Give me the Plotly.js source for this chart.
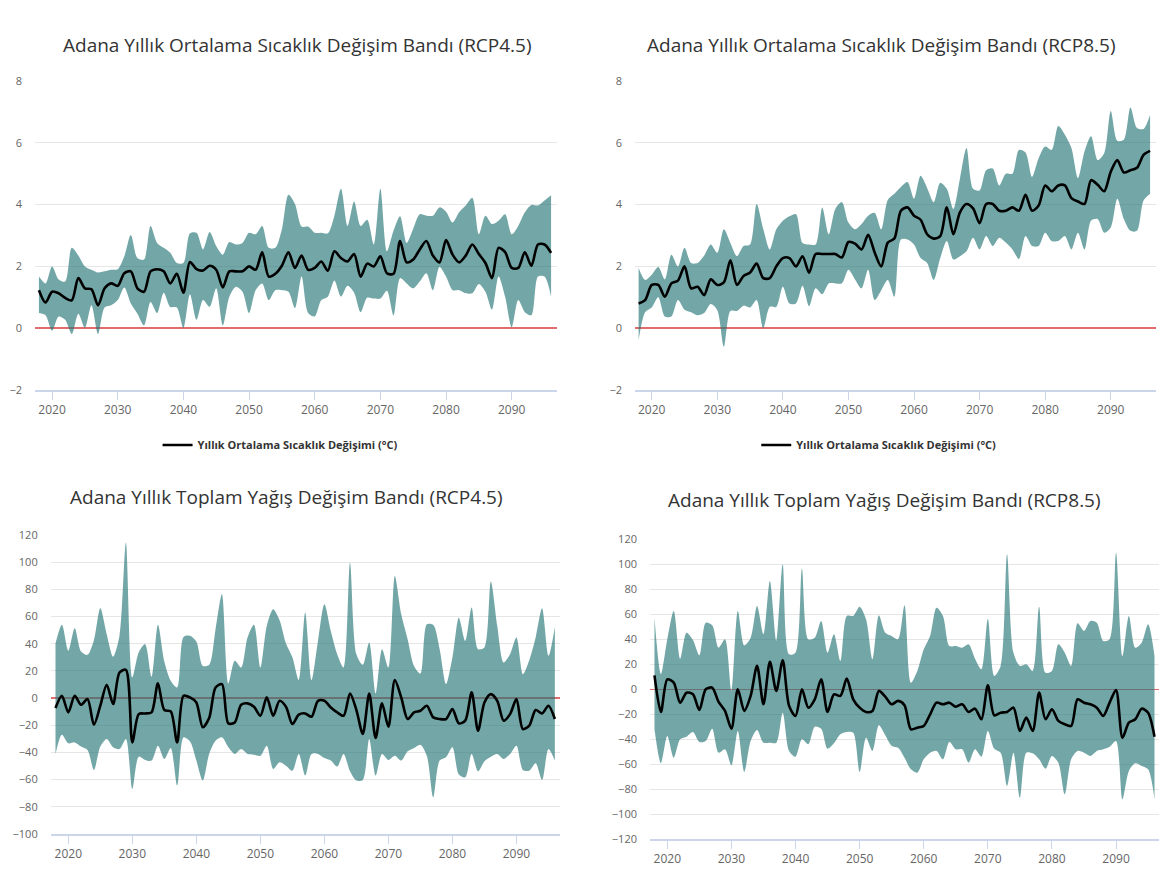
<!DOCTYPE html>
<html>
<head>
<meta charset="utf-8">
<script src="https://cdn.plot.ly/plotly-3.0.1.min.js"></script>
<style>
html,body{margin:0;padding:0;background:#fff;}
#chart{width:1167px;height:877px;}
</style>
</head>
<body>
<div id="chart"></div>
<script>
// ---- DATA ----
var years = [2018,2019,
 2020,2021,2022,2023,2024,2025,2026,2027,2028,2029,
 2030,2031,2032,2033,2034,2035,2036,2037,2038,2039,
 2040,2041,2042,2043,2044,2045,2046,2047,2048,2049,
 2050,2051,2052,2053,2054,2055,2056,2057,2058,2059,
 2060,2061,2062,2063,2064,2065,2066,2067,2068,2069,
 2070,2071,2072,2073,2074,2075,2076,2077,2078,2079,
 2080,2081,2082,2083,2084,2085,2086,2087,2088,2089,
 2090,2091,2092,2093,2094,2095,2096];

var xTicks = [2020,2030,2040,2050,2060,2070,2080,2090];
var tempTicks = [-2,0,2,4,6,8];
var precip45Ticks = [-100,-80,-60,-40,-20,0,20,40,60,80,100,120];
var precip85Ticks = [-120,-100,-80,-60,-40,-20,0,20,40,60,80,100,120];

var titleT45 = "Adana Yıllık Ortalama Sıcaklık Değişim Bandı (RCP4.5)";
var titleT85 = "Adana Yıllık Ortalama Sıcaklık Değişim Bandı (RCP8.5)";
var titleP45 = "Adana Yıllık Toplam Yağış Değişim Bandı (RCP4.5)";
var titleP85 = "Adana Yıllık Toplam Yağış Değişim Bandı (RCP8.5)";
var seriesTemp = "Yıllık Ortalama Sıcaklık Değişimi (°C)";
var seriesPrecip = "Yıllık Toplam Yağış Değişimi (%)";

// Temperature RCP4.5
var t45Mean = [1.23,0.83,
 1.18,1.13,0.98,0.9,1.62,1.29,1.26,0.74,1.29,1.45,
 1.37,1.78,1.84,1.29,1.18,1.84,1.91,1.84,1.45,1.76,
 1.15,2.14,1.91,1.87,2.02,1.89,1.32,1.84,1.84,1.84,
 2.0,1.89,2.46,1.67,1.76,2.02,2.46,1.95,2.35,1.89,
 1.95,2.16,1.86,2.49,2.27,2.16,2.4,1.67,2.09,2.0,
 2.33,1.78,1.76,2.82,2.13,2.22,2.55,2.82,2.35,2.13,
 2.85,2.38,2.13,2.35,2.71,2.4,2.11,1.62,2.6,2.46,
 1.95,1.95,2.46,2.02,2.71,2.71,2.44];
var t45Upper = [1.67,1.45,
 2.0,1.58,1.51,2.6,2.35,2.0,1.89,1.8,1.84,1.89,
 1.91,2.33,3.02,2.27,2.22,3.31,2.76,2.6,2.44,2.11,
 2.11,3.07,3.09,2.55,3.11,2.66,2.38,2.79,2.71,2.76,
 3.09,3.04,3.31,2.6,2.6,3.2,4.32,4.02,3.29,3.29,
 3.09,3.09,3.07,3.64,4.51,3.31,4.1,3.31,3.51,2.71,
 4.51,2.49,3.15,3.62,2.76,3.22,3.69,3.64,3.64,3.91,
 3.77,3.42,3.75,3.97,4.22,3.04,3.64,3.37,3.48,3.69,
 3.04,3.31,3.75,3.99,3.97,4.13,4.3];
var t45Lower = [0.49,0.42,
 -0.08,0.38,0.27,-0.19,0.47,0.01,0.74,-0.19,0.67,0.74,
 0.91,1.32,0.8,0.47,0.09,0.85,0.49,1.15,0.69,0.67,
 0.01,1.1,0.27,0.91,0.69,1.29,0.09,1.02,1.34,1.18,
 0.49,1.23,1.45,0.91,1.23,1.23,1.18,0.65,1.67,0.49,
 0.38,0.91,1.02,1.54,1.02,1.37,1.15,0.52,0.99,0.96,
 0.96,1.21,0.42,1.62,1.45,1.29,1.51,1.78,1.23,1.98,
 1.67,1.23,1.23,1.13,1.13,1.43,1.18,0.6,1.67,1.02,
 0.03,0.91,0.52,0.42,1.67,1.67,1.02];

// Temperature RCP8.5
var t85Mean = [0.8,0.91,
 1.4,1.4,1.02,1.45,1.54,2.0,1.29,1.34,1.07,1.58,
 1.4,1.48,2.2,1.4,1.69,1.8,2.09,1.62,1.62,2.0,
 2.27,2.27,2.0,2.33,1.8,2.4,2.4,2.4,2.4,2.29,
 2.79,2.74,2.55,3.02,2.45,2.0,2.77,2.9,3.8,3.91,
 3.64,3.51,3.04,2.9,2.98,3.91,3.04,3.75,4.02,3.88,
 3.4,4.02,4.02,3.8,3.8,3.91,3.8,4.32,3.8,3.97,
 4.62,4.43,4.62,4.62,4.21,4.1,4.02,4.79,4.64,4.43,
 5.06,5.44,5.04,5.11,5.19,5.61,5.74];
var t85Upper = [1.95,1.56,
 1.73,1.98,1.58,2.38,2.0,2.6,2.11,2.11,2.35,2.71,
 2.44,3.2,2.76,2.33,2.66,2.71,4.02,3.22,2.55,3.2,
 3.48,3.62,3.69,2.76,2.71,2.71,3.91,3.04,3.86,4.08,
 3.42,3.2,3.37,3.64,3.73,3.2,4.15,4.35,4.57,4.73,
 4.19,4.93,4.54,4.08,4.71,4.51,3.86,4.84,5.83,4.51,
 4.46,5.11,5.17,4.62,5.0,5.0,5.77,5.69,4.9,5.5,
 5.88,5.77,6.54,6.26,5.83,4.86,5.72,6.21,5.44,5.66,
 7.03,6.07,6.1,7.14,6.48,6.45,6.9];
var t85Lower = [-0.38,0.52,
 0.67,1.0,0.38,0.38,0.91,0.6,0.52,0.42,0.49,0.78,
 0.58,-0.6,0.56,0.56,0.73,0.67,0.91,0.0,0.69,0.69,
 1.34,0.8,0.8,1.37,0.71,1.29,1.1,1.45,1.45,1.45,
 1.89,1.58,1.29,1.89,0.91,1.23,1.56,1.02,2.87,2.87,
 2.71,2.27,2.11,1.56,2.27,2.82,2.22,2.33,2.49,2.93,
 2.55,2.98,2.66,2.93,2.77,2.55,2.24,2.98,2.66,2.66,
 3.09,2.82,2.82,2.98,2.55,3.09,2.55,3.48,3.53,3.09,
 3.26,4.19,3.53,3.15,3.15,4.13,4.35];

// Precipitation RCP4.5
var p45Mean = [-7.3,1.7,
 -10.5,1.7,-4.9,-0.7,-19.6,-5.6,9.8,-4.4,18.8,20.8,
 -32.6,-11.8,-11.3,-10.5,10.8,-8.8,-9.8,-32.6,1.7,0.5,
 -3.2,-21.5,-14.7,7.8,10.3,-18.6,-17.9,-4.9,-3.9,-6.4,
 -13.0,0.5,-13.0,-2.0,-6.4,-19.1,-12.2,-11.3,-13.7,-2.0,
 -2.0,-6.9,-10.5,-13.0,3.4,-8.8,-26.4,3.4,-29.4,-3.9,
 -21.1,13.2,0.5,-15.4,-10.5,-9.3,-5.6,-14.2,-15.4,-15.4,
 -8.1,-18.6,-16.6,4.2,-24.0,-3.2,2.9,-2.0,-16.6,-11.8,
 -0.7,-22.8,-20.3,-8.8,-11.3,-5.6,-15.4];
var p45Upper = [40.1,53.9,
 34.8,51.4,34.3,31.8,42.6,66.1,47.0,30.4,45.8,114.3,
 15.2,33.5,39.7,15.7,53.9,26.9,12.7,7.8,45.0,45.8,
 41.6,23.7,24.5,50.7,76.4,10.8,27.4,22.5,44.6,53.9,
 22.5,53.1,65.4,57.3,40.1,30.0,13.2,62.9,13.2,42.1,
 69.0,49.4,32.3,22.5,99.6,32.3,24.5,40.9,3.4,36.0,
 22.5,89.8,61.7,43.3,23.7,18.1,54.3,53.9,36.0,10.3,
 29.9,59.2,42.1,66.6,36.0,37.2,85.7,53.1,26.2,32.3,
 44.6,17.6,27.9,44.6,66.1,31.1,52.4];
var p45Lower = [-41.1,-26.9,
 -33.3,-32.6,-35.7,-38.2,-52.9,-35.7,-30.1,-36.2,-37.5,-30.1,
 -66.8,-43.1,-45.5,-46.0,-35.0,-44.8,-36.7,-64.4,-28.9,-31.8,
 -46.0,-60.7,-41.1,-31.3,-28.9,-36.2,-41.1,-37.5,-41.1,-41.6,
 -42.4,-35.0,-52.1,-47.2,-49.7,-53.4,-41.1,-57.0,-41.1,-41.1,
 -44.1,-46.0,-50.4,-41.1,-53.9,-60.7,-60.2,-30.1,-57.0,-41.1,
 -45.5,-42.4,-46.0,-39.2,-36.7,-34.3,-42.4,-72.9,-46.0,-43.6,
 -36.2,-56.3,-58.3,-41.1,-53.9,-46.5,-43.1,-41.1,-44.8,-41.1,
 -35.0,-52.9,-53.4,-48.0,-60.2,-37.5,-46.0];

// Precipitation RCP8.5
var p85Mean = [11.2,-18.1,
 8.0,5.3,-10.7,-2.7,-4.0,-16.5,0.0,1.3,-10.1,-17.3,
 -31.5,0.0,-17.3,-5.3,18.7,-12.0,21.9,-1.3,23.2,-13.3,
 -21.3,0.0,-14.7,-8.0,8.0,-18.1,-4.0,-5.3,8.5,-8.0,
 -14.7,-18.1,-17.3,-1.3,-5.9,-12.0,-9.3,-12.8,-32.0,-30.7,
 -29.3,-20.0,-10.7,-12.0,-10.7,-13.9,-12.0,-18.1,-15.5,-24.0,
 3.2,-20.8,-18.7,-18.1,-14.7,-33.3,-22.7,-33.3,-2.7,-24.0,
 -16.0,-25.3,-28.0,-29.3,-8.0,-10.7,-12.0,-14.7,-21.3,-10.7,
 -0.5,-38.7,-26.7,-24.0,-15.5,-18.7,-37.9];
var p85Upper = [57.3,12.0,
 40.0,62.7,24.5,45.3,39.5,27.2,53.3,51.2,33.3,40.0,
 -1.3,62.7,35.2,41.3,66.7,44.0,86.7,38.7,100.0,28.0,
 29.3,96.5,40.0,41.3,54.7,29.3,44.0,22.7,58.7,58.7,
 66.1,56.0,24.0,59.2,45.3,42.7,40.0,67.2,5.3,14.7,
 32.0,42.7,65.3,58.7,34.7,34.7,33.3,36.0,24.5,16.0,
 56.5,10.7,18.7,108.0,29.3,18.7,20.0,14.7,66.1,13.3,
 14.7,36.0,29.3,18.7,52.8,46.7,54.7,53.3,38.7,40.0,
 109.3,26.7,58.7,33.3,37.3,52.0,26.7];
var p85Lower = [-32.0,-59.2,
 -37.3,-54.7,-40.0,-37.9,-34.1,-42.1,-41.3,-31.5,-50.7,-48.0,
 -60.8,-33.3,-66.1,-41.3,-32.5,-42.7,-42.7,-42.7,-18.7,-49.3,
 -53.9,-40.0,-44.0,-29.9,-31.5,-47.5,-43.2,-36.0,-34.1,-34.7,
 -66.1,-38.7,-49.3,-28.8,-36.8,-45.3,-46.7,-54.7,-64.0,-66.7,
 -56.0,-50.7,-49.3,-56.0,-42.1,-48.0,-48.0,-58.7,-48.0,-53.9,
 -33.3,-47.5,-50.7,-77.3,-50.7,-86.7,-50.7,-51.2,-56.0,-63.5,
 -53.3,-58.7,-84.0,-56.0,-49.3,-50.7,-53.3,-49.3,-48.0,-45.9,
 -41.3,-88.0,-65.3,-59.2,-61.3,-64.0,-88.0];

// ---- STYLE ----
var FONT = "'Open Sans', 'DejaVu Sans', sans-serif";
var bandFill = "rgba(40,118,118,0.65)";
var SMOOTH = 0.8;

function band(xa, ya, lower, upper) {
  return [
    {x: years, y: lower, xaxis: xa, yaxis: ya, type: 'scatter', mode: 'lines',
     line: {width: 0, shape: 'spline', smoothing: SMOOTH, color: 'rgba(0,0,0,0)'},
     showlegend: false, hoverinfo: 'skip'},
    {x: years, y: upper, xaxis: xa, yaxis: ya, type: 'scatter', mode: 'lines',
     line: {width: 0, shape: 'spline', smoothing: SMOOTH, color: 'rgba(0,0,0,0)'},
     fill: 'tonexty', fillcolor: bandFill, showlegend: false, hoverinfo: 'skip'}
  ];
}
function meanLine(xa, ya, vals, name, legendId) {
  var t = {x: years, y: vals, xaxis: xa, yaxis: ya, type: 'scatter', mode: 'lines',
    name: name, line: {color: '#000000', width: 2.6, shape: 'spline', smoothing: SMOOTH}};
  if (legendId) { t.legend = legendId; t.showlegend = true; } else { t.showlegend = false; }
  return t;
}

var data = []
  .concat(band('x', 'y', t45Lower, t45Upper))
  .concat([meanLine('x', 'y', t45Mean, seriesTemp, 'legend')])
  .concat(band('x2', 'y2', t85Lower, t85Upper))
  .concat([meanLine('x2', 'y2', t85Mean, seriesTemp, 'legend2')])
  .concat(band('x3', 'y3', p45Lower, p45Upper))
  .concat([meanLine('x3', 'y3', p45Mean, seriesPrecip, null)])
  .concat(band('x4', 'y4', p85Lower, p85Upper))
  .concat([meanLine('x4', 'y4', p85Mean, seriesPrecip, null)]);

function xax(domain, range, anchor) {
  return {domain: domain, range: range, anchor: anchor, tickmode: 'array', tickvals: xTicks,
    showgrid: false, zeroline: false, showline: true, linecolor: '#ccd6eb', linewidth: 1.5,
    ticks: 'outside', ticklen: 8, tickcolor: '#ccd6eb', tickwidth: 1,
    tickfont: {family: FONT, size: 12, color: '#666666'}, fixedrange: true};
}
function yax(domain, range, anchor, ticks) {
  return {domain: domain, range: range, anchor: anchor, tickmode: 'array', tickvals: ticks,
    showgrid: true, gridcolor: '#e6e6e6', gridwidth: 1,
    zeroline: true, zerolinecolor: '#e06c6c', zerolinewidth: 1.5,
    showline: false, ticks: '', ticklabelstandoff: 12,
    tickfont: {family: FONT, size: 11, color: '#666666'}, fixedrange: true};
}

var titleFont = {family: FONT, size: 19, color: '#333333'};
var legendFont = {family: FONT, size: 11, color: '#333333', weight: 'bold'};

var layout = {
  width: 1167, height: 877, autosize: false,
  margin: {l: 0, r: 0, t: 0, b: 0},
  paper_bgcolor: '#ffffff', plot_bgcolor: '#ffffff',
  xaxis:  xax([0.02999, 0.47729], [2017.4, 2096.9], 'y'),
  yaxis:  yax([0.55530, 0.90764], [-2, 8], 'x', tempTicks),
  xaxis2: xax([0.54413, 0.99057], [2017.45, 2096.9], 'y2'),
  yaxis2: yax([0.55530, 0.90764], [-2, 8], 'x2', tempTicks),
  xaxis3: xax([0.04344, 0.47986], [2017.25, 2096.8], 'y3'),
  yaxis3: yax([0.04903, 0.38997], [-100, 120], 'x3', precip45Ticks),
  xaxis4: xax([0.55698, 0.99314], [2017.3, 2096.7], 'y4'),
  yaxis4: yax([0.04299, 0.38506], [-120, 120], 'x4', precip85Ticks),
  legend:  {x: 0.240, y: 0.4926, xanchor: 'center', yanchor: 'middle', orientation: 'h',
            font: legendFont, bgcolor: 'rgba(0,0,0,0)'},
  legend2: {x: 0.753, y: 0.4926, xanchor: 'center', yanchor: 'middle', orientation: 'h',
            font: legendFont, bgcolor: 'rgba(0,0,0,0)'},
  annotations: [
    {text: titleT45, xref: 'paper', yref: 'paper', x: 297/1167, y: 1 - 45/877,
     xanchor: 'center', yanchor: 'middle', showarrow: false, font: titleFont},
    {text: titleT85, xref: 'paper', yref: 'paper', x: 881/1167, y: 1 - 45/877,
     xanchor: 'center', yanchor: 'middle', showarrow: false, font: titleFont},
    {text: titleP45, xref: 'paper', yref: 'paper', x: 286/1167, y: 1 - 497/877,
     xanchor: 'center', yanchor: 'middle', showarrow: false, font: titleFont},
    {text: titleP85, xref: 'paper', yref: 'paper', x: 884/1167, y: 1 - 500/877,
     xanchor: 'center', yanchor: 'middle', showarrow: false, font: titleFont}
  ],
  showlegend: true
};

Plotly.newPlot('chart', data, layout, {displayModeBar: false, staticPlot: true});
</script>
</body>
</html>
